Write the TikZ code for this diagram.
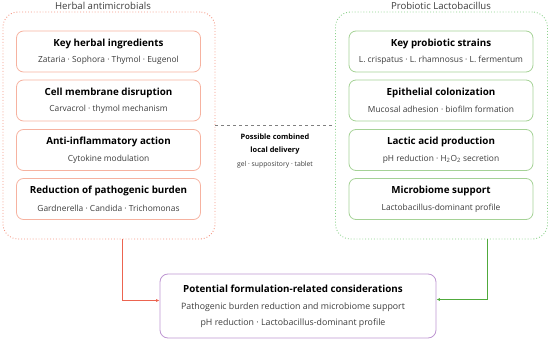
\documentclass[tikz,border=0pt]{standalone}
\usepackage{fontspec}
\setmainfont{Open Sans}
\usetikzlibrary{arrows.meta,positioning}

\definecolor{herbLine}{RGB}{244,150,130}
\definecolor{herbBox}{RGB}{246,178,160}
\definecolor{linkRed}{RGB}{236,100,80}
\definecolor{probLine}{RGB}{140,210,140}
\definecolor{probBox}{RGB}{165,210,150}
\definecolor{formBox}{RGB}{190,150,210}
\definecolor{bodyText}{RGB}{60,60,60}

\tikzset{
  groupframe/.style={draw, dotted, line width=0.9pt, rounded corners=15pt, minimum width=212pt, minimum height=227pt, inner sep=0pt},
  grouptitle/.style={font=\fontsize{9.6}{11}\selectfont, text=bodyText, inner sep=0pt},
  itembox/.style={draw, line width=0.8pt, rounded corners=7pt, minimum width=184pt, minimum height=41pt, inner sep=0pt},
  itemhead/.style={font=\fontsize{9.8}{12}\selectfont\bfseries, text=black, inner sep=0pt},
  itemsub/.style={font=\fontsize{8.4}{10}\selectfont, text=bodyText, inner sep=0pt},
  linkarrow/.style={line width=1.1pt, -{Latex[length=3.5pt,width=3pt]}},
}

\begin{document}
\begin{tikzpicture}[x=1pt, y=-1pt]
\useasboundingbox (0,0) rectangle (550,342);

% Left group: herbal antimicrobials
\node[groupframe, draw=herbLine] (herbal) at (109,125.5) {};
\node[grouptitle] (herbaltitle) at (103,6) {Herbal antimicrobials};
\begin{scope}
  \node[itembox, draw=herbBox] (h1) at (108.5,51.5) {};
  \node[itemhead] (h1head) at ([yshift=8pt]h1.center) {Key herbal ingredients};
  \node[itemsub] (h1sub) at ([yshift=-9pt]h1.center) {Zataria · Sophora · Thymol · Eugenol};
  \node[itembox, draw=herbBox] (h2) at (108.5,100.5) {};
  \node[itemhead] (h2head) at ([yshift=8pt]h2.center) {Cell membrane disruption};
  \node[itemsub] (h2sub) at ([yshift=-9pt]h2.center) {Carvacrol · thymol mechanism};
  \node[itembox, draw=herbBox] (h3) at (108.5,150) {};
  \node[itemhead] (h3head) at ([yshift=8pt]h3.center) {Anti-inflammatory action};
  \node[itemsub] (h3sub) at ([yshift=-9pt]h3.center) {Cytokine modulation};
  \node[itembox, draw=herbBox] (h4) at (108.5,199) {};
  \node[itemhead] (h4head) at ([yshift=8pt]h4.center) {Reduction of pathogenic burden};
  \node[itemsub] (h4sub) at ([yshift=-9pt]h4.center) {Gardnerella · Candida · Trichomonas};
\end{scope}

% Right group: probiotic Lactobacillus
\node[groupframe, draw=probLine] (probiotic) at (441.5,125.5) {};
\node[grouptitle] (probiotictitle) at (441,6) {Probiotic Lactobacillus};
\begin{scope}
  \node[itembox, draw=probBox] (p1) at (441,51.5) {};
  \node[itemhead] (p1head) at ([yshift=8pt]p1.center) {Key probiotic strains};
  \node[itemsub] (p1sub) at ([yshift=-9pt]p1.center) {L. crispatus · L. rhamnosus · L. fermentum};
  \node[itembox, draw=probBox] (p2) at (441,100.5) {};
  \node[itemhead] (p2head) at ([yshift=8pt]p2.center) {Epithelial colonization};
  \node[itemsub] (p2sub) at ([yshift=-9pt]p2.center) {Mucosal adhesion · biofilm formation};
  \node[itembox, draw=probBox] (p3) at (441,150) {};
  \node[itemhead] (p3head) at ([yshift=8pt]p3.center) {Lactic acid production};
  \node[itemsub] (p3sub) at ([yshift=-9pt]p3.center) {pH reduction · H\textsubscript{2}O\textsubscript{2} secretion};
  \node[itembox, draw=probBox] (p4) at (441,199) {};
  \node[itemhead] (p4head) at ([yshift=8pt]p4.center) {Microbiome support};
  \node[itemsub] (p4sub) at ([yshift=-9pt]p4.center) {Lactobacillus-dominant profile};
\end{scope}

% Combined delivery link
\draw[gray, dashed, line width=0.7pt] (herbal.east |- 0,125) -- (probiotic.west |- 0,125);
\node[font=\fontsize{7.4}{8}\selectfont\bfseries, inner sep=0pt] (deliv1) at (275,137) {Possible combined};
\node[font=\fontsize{7.4}{8}\selectfont\bfseries, inner sep=0pt] (deliv2) at (275,151) {local delivery};
\node[font=\fontsize{6.8}{7}\selectfont, text=bodyText, inner sep=0pt] (deliv3) at (275,165) {gel · suppository · tablet};

% Outcome box
\node[draw=formBox, line width=0.8pt, rounded corners=8pt, minimum width=276pt, minimum height=64pt, inner sep=0pt] (form) at (298,306) {};
\node[itemhead, font=\fontsize{9.8}{12}\selectfont\bfseries] (formhead) at (293,289) {Potential\ formulation-related\ considerations};
\node[itemsub, font=\fontsize{8.8}{10}\selectfont] (formsub1) at (293,307) {Pathogenic\ burden\ reduction\ and\ microbiome\ support};
\node[itemsub, font=\fontsize{8.8}{10}\selectfont] (formsub2) at (293,323) {pH\ reduction\ ·\ Lactobacillus-dominant\ profile};

% Arrows into outcome
\draw[linkarrow, color=linkRed] (herbal.south -| 122.5,0) |- (form.west |- 0,300.5);
\draw[linkarrow, color={rgb,255:red,80;green,170;blue,60}] (probiotic.south -| 487.5,0) |- (form.east |- 0,299.5);
\end{tikzpicture}
\end{document}
